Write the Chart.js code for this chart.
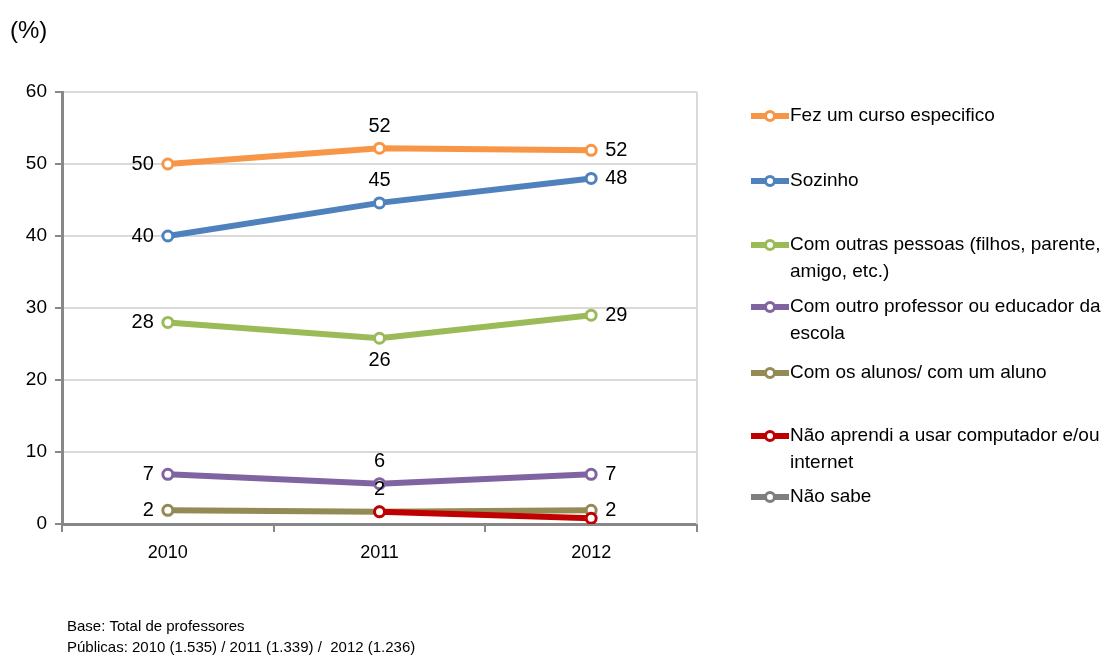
<!DOCTYPE html>
<html>
<head>
<meta charset="utf-8">
<script src="https://cdn.jsdelivr.net/npm/chart.js@4"></script>
<style>
  body { margin: 0; background: #fff; }
  canvas { display: block; }
</style>
</head>
<body>
<canvas id="grafico" width="1106" height="657"></canvas>
<script>
const anos = ["2010", "2011", "2012"];

const nomes = [
  "Fez um curso especifico",
  "Sozinho",
  "Com outras pessoas (filhos, parente,\namigo, etc.)",
  "Com outro professor ou educador da\nescola",
  "Com os alunos/ com um aluno",
  "Não aprendi a usar computador e/ou\ninternet",
  "Não sabe"
];

const curso = [50, 52.2, 51.9];
const sozinho = [40, 44.6, 48];
const outrasPessoas = [28, 25.8, 29];
const outroProfessor = [6.9, 5.6, 6.9];
const alunos = [1.9, 1.7, 1.9];
const naoAprendi = [null, 1.7, 0.8];
const naoSabe = [null, null, null];

const yTicks = [0, 10, 20, 30, 40, 50, 60];

const cores = ["#F79646", "#4F81BD", "#9BBB59", "#8064A2", "#948A54", "#C00000", "#7F7F7F"];
// onde fica o rotulo de cada ponto: l = esquerda, r = direita, a = acima, b = abaixo, "" = sem rotulo
const posRotulos = [
  ["l", "a", "r"],
  ["l", "a", "r"],
  ["l", "b", "r"],
  ["l", "a", "r"],
  ["l", "", "r"],
  ["", "a", ""],
  ["", "", ""]
];

const fonte = '"Liberation Sans Narrow", "Arial Narrow", "Liberation Sans", sans-serif';
const series = [curso, sozinho, outrasPessoas, outroProfessor, alunos, naoAprendi, naoSabe];

const datasets = series.map((d, i) => ({
  label: nomes[i].replace("\n", " "),
  data: d,
  borderColor: cores[i],
  backgroundColor: "#fff",
  borderWidth: 6,
  pointRadius: 5,
  pointBorderWidth: 3,
  pointBackgroundColor: "#fff",
  pointBorderColor: cores[i],
  tension: 0,
  order: i === 5 ? -1 : i
}));

const extras = {
  id: "extras",
  beforeDatasetsDraw(chart) {
    // borda direita clara
    const a = chart.chartArea, ctx = chart.ctx;
    ctx.save();
    ctx.strokeStyle = "#d9d9d9";
    ctx.lineWidth = 2;
    ctx.beginPath();
    ctx.moveTo(a.right, a.top);
    ctx.lineTo(a.right, a.bottom);
    ctx.stroke();
    ctx.restore();
  },
  afterDatasetsDraw(chart) {
    const ctx = chart.ctx;
    ctx.save();
    // rotulos dos valores
    ctx.font = "20px " + fonte;
    ctx.fillStyle = "#000";
    chart.data.datasets.forEach((ds, i) => {
      const meta = chart.getDatasetMeta(i);
      meta.data.forEach((pt, j) => {
        const p = posRotulos[i][j];
        if (!p || ds.data[j] == null) return;
        const txt = String(Math.round(ds.data[j]));
        let x = pt.x, y = pt.y;
        ctx.textBaseline = "middle";
        if (p === "l") { ctx.textAlign = "right"; x -= 14; }
        if (p === "r") { ctx.textAlign = "left"; x += 14; }
        if (p === "a") { ctx.textAlign = "center"; y -= 22; }
        if (p === "b") { ctx.textAlign = "center"; y += 22; }
        ctx.fillText(txt, x, y);
      });
    });

    // legenda
    const linhasY = [116, 181, 245, 307, 373, 436, 497];
    ctx.font = "19px " + fonte;
    ctx.textAlign = "left";
    ctx.textBaseline = "middle";
    nomes.forEach((n, i) => {
      const y = linhasY[i];
      ctx.strokeStyle = cores[i];
      ctx.lineWidth = 6;
      ctx.beginPath();
      ctx.moveTo(751, y);
      ctx.lineTo(789, y);
      ctx.stroke();
      ctx.beginPath();
      ctx.arc(770, y, 4.5, 0, Math.PI * 2);
      ctx.fillStyle = "#fff";
      ctx.fill();
      ctx.lineWidth = 3;
      ctx.stroke();
      ctx.fillStyle = "#000";
      n.split("\n").forEach((t, k) => ctx.fillText(t, 790, y + k * 27));
    });

    // titulo e nota
    ctx.font = "24px " + fonte;
    ctx.fillText("(%)", 10, 31);
    ctx.font = "15px " + fonte;
    ctx.fillText("Base: Total de professores", 67, 627);
    ctx.fillText("Públicas: 2010 (1.535) / 2011 (1.339) /  2012 (1.236)", 67, 648);
    ctx.restore();
  }
};

new Chart(document.getElementById("grafico"), {
  type: "line",
  data: { labels: anos, datasets: datasets },
  plugins: [extras],
  options: {
    responsive: false,
    animation: false,
    layout: { padding: { top: 92, right: 409, bottom: 0, left: 0 } },
    plugins: { legend: { display: false }, tooltip: { enabled: false } },
    scales: {
      x: {
        offset: true,
        afterFit(s) { s.height = 133; },
        grid: { display: true, drawOnChartArea: false, offset: true, tickLength: 8, tickColor: "#888", lineWidth: 2 },
        border: { color: "#888", width: 3 },
        ticks: { color: "#000", font: { family: fonte, size: 18 }, padding: 10 }
      },
      y: {
        min: 0,
        max: 60,
        afterFit(s) { s.width = 62; },
        afterBuildTicks(s) { s.ticks = yTicks.map(v => ({ value: v })); },
        grid: { color: "#d9d9d9", lineWidth: 2, tickLength: 7, tickColor: "#888" },
        border: { color: "#888", width: 3 },
        ticks: { color: "#000", font: { family: fonte, size: 19 }, padding: 8 }
      }
    }
  }
});
</script>
</body>
</html>
